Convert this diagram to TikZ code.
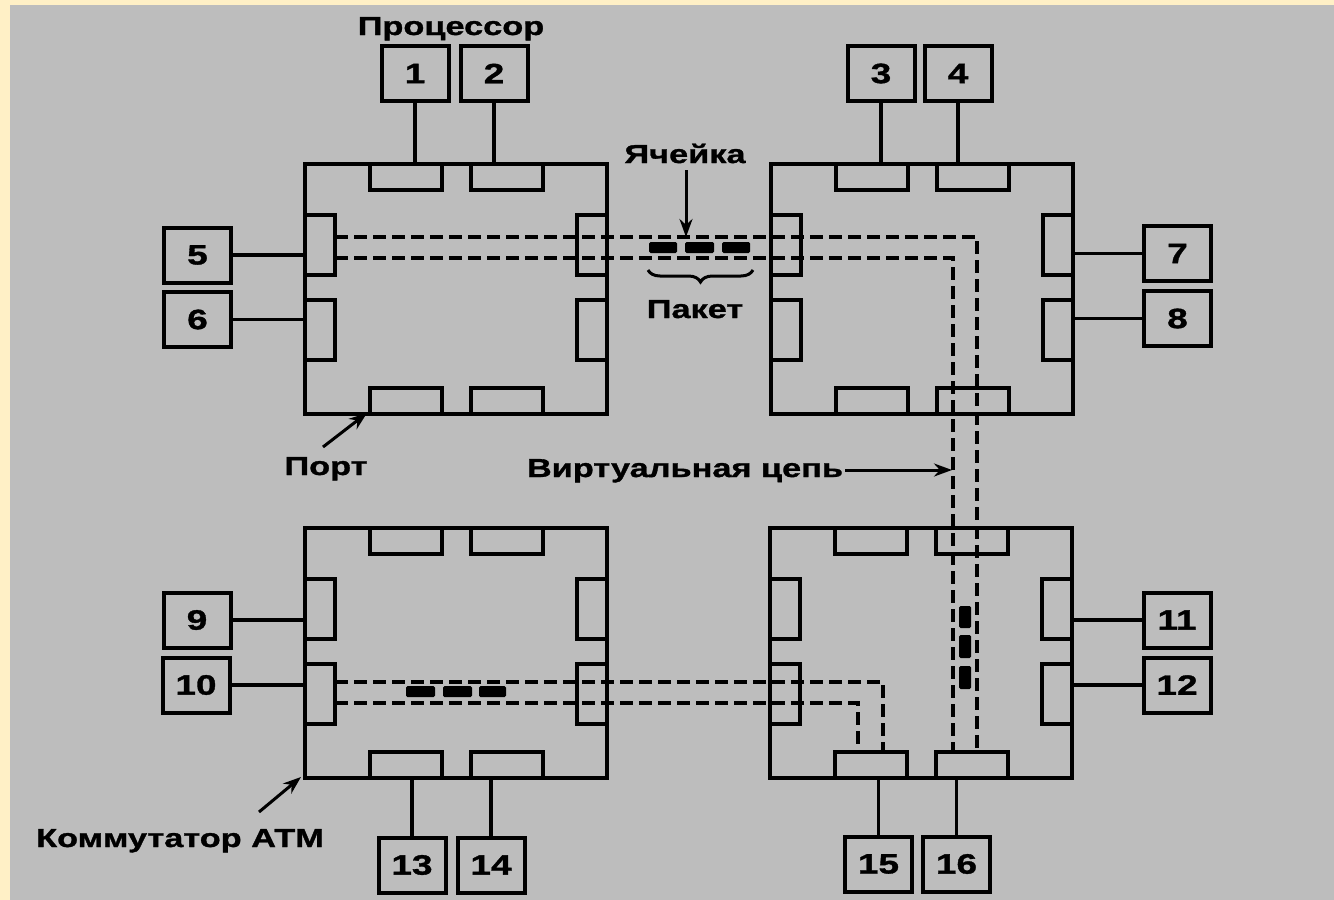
\documentclass[tikz,border=0pt]{standalone}
\usepackage{fontspec}
\setmainfont{Liberation Sans}[FakeStretch=1.32,FakeBold=1.2]
\usetikzlibrary{arrows.meta,decorations.pathreplacing}
\definecolor{bg}{RGB}{189,189,189}
\definecolor{cream}{RGB}{255,240,198}
\newcommand\atmsw[3]{%
  \node[sw] (#1) at (#2,#3) {};
  \node[hport] (#1-t1) at (#2+65,#3) {};
  \node[hport] (#1-t2) at (#2+166,#3) {};
  \node[hport] (#1-b1) at (#2+65,#3+224) {};
  \node[hport] (#1-b2) at (#2+166,#3+224) {};
  \node[vport] (#1-l1) at (#2,#3+51) {};
  \node[vport] (#1-l2) at (#2,#3+136) {};
  \node[vport] (#1-r1) at (#2+272,#3+51) {};
  \node[vport] (#1-r2) at (#2+272,#3+136) {};
}
\begin{document}
\begin{tikzpicture}[x=1pt,y=-1pt,
  box/.style={draw,line width=4pt,minimum width=67pt,minimum height=55pt,inner sep=0pt,font=\fontsize{28}{30}\selectfont\bfseries},
  sw/.style={draw,line width=3.6pt,minimum width=302pt,minimum height=250pt,inner sep=0pt,anchor=north west},
  port/.style={draw,line width=4pt,fill=bg,inner sep=0pt,anchor=north west},
  hport/.style={port,minimum width=72pt,minimum height=26pt},
  vport/.style={port,minimum width=30pt,minimum height=60pt},
  wire/.style={line width=3.6pt},
  vc/.style={line width=3.4pt,dash pattern=on 13pt off 6pt},
  cell/.style={fill=black,rounded corners=1.5pt},
  lbl/.style={font=\fontsize{26}{30}\selectfont\bfseries,inner sep=0pt},
  arr/.style={line width=3pt,-{Stealth[length=18pt,width=13pt]}},
]
\fill[cream] (0,0) rectangle (1334,900);
\fill[bg] (10,5) rectangle (1334,900);
\useasboundingbox (0,0) rectangle (1334,900);

% switches
\atmsw{A}{303}{162}
\atmsw{B}{769}{162}
\atmsw{C}{303}{526}
\atmsw{D}{768}{526}

% processor boxes
\node[box] (b1) at (415,73.5) {1};
\node[box] (b2) at (494,73.5) {2};
\node[box] (b3) at (881,73.5) {3};
\node[box] (b4) at (958,73.5) {4};
\node[box] (b5) at (197.5,255) {5};
\node[box] (b6) at (197.5,319.5) {6};
\node[box] (b7) at (1177.5,253.5) {7};
\node[box] (b8) at (1177.5,318.5) {8};
\node[box] (b9) at (197,620) {9};
\node[box] (b10) at (196,685) {10};
\node[box] (b11) at (1177,620) {11};
\node[box] (b12) at (1177,685) {12};
\node[box] (b13) at (412,865) {13};
\node[box] (b14) at (491,865) {14};
\node[box] (b15) at (878.5,864) {15};
\node[box] (b16) at (956.5,864) {16};

% wires
\draw[wire] (b1.south) -- (b1.south |- A-t1.north);
\draw[wire] (b2.south) -- (b2.south |- A-t2.north);
\draw[wire] (b3.south) -- (b3.south |- B-t1.north);
\draw[wire] (b4.south) -- (b4.south |- B-t2.north);
\draw[wire] (b5.east) -- (b5.east -| A-l1.west);
\draw[wire] (b6.east) -- (b6.east -| A-l2.west);
\draw[wire] (b7.west) -- (b7.west -| B-r1.east);
\draw[wire] (b8.west) -- (b8.west -| B-r2.east);
\draw[wire] (b9.east) -- (b9.east -| C-l1.west);
\draw[wire] (b10.east) -- (b10.east -| C-l2.west);
\draw[wire] (b11.west) -- (b11.west -| D-r1.east);
\draw[wire] (b12.west) -- (b12.west -| D-r2.east);
\draw[wire] (b13.north) -- (b13.north |- C-b1.south);
\draw[wire] (b14.north) -- (b14.north |- C-b2.south);
\draw[wire] (b15.north) -- (b15.north |- D-b1.south);
\draw[wire] (b16.north) -- (b16.north |- D-b2.south);

% virtual circuits
\coordinate (va0) at (335,237);
\coordinate (va1) at (977,237);
\coordinate (va2) at (977,752);
\coordinate (vb0) at (335,258);
\coordinate (vb1) at (953,258);
\coordinate (vb2) at (953,752);
\coordinate (vc0) at (335,682);
\coordinate (vc1) at (883,682);
\coordinate (vc2) at (883,752);
\coordinate (vd0) at (335,703);
\coordinate (vd1) at (858,703);
\coordinate (vd2) at (858,752);
\draw[vc] (va0) -- (va1) -- (va2);
\draw[vc] (vb0) -- (vb1) -- (vb2);
\draw[vc] (vc0) -- (vc1) -- (vc2);
\draw[vc] (vd0) -- (vd1) -- (vd2);

% cells
\fill[cell] (649,242) rectangle (677,253);
\fill[cell] (685,242) rectangle (714,253);
\fill[cell] (722,242) rectangle (750,253);
\fill[cell] (406,686) rectangle (435,697);
\fill[cell] (443,686) rectangle (472,697);
\fill[cell] (479,686) rectangle (506,697);
\fill[cell] (959,606) rectangle (971,628);
\fill[cell] (959,635) rectangle (971,658);
\fill[cell] (959,666) rectangle (971,689);

% labels
\node[lbl,anchor=base] (lproc) at (451,35) {Процессор};
\node[lbl,anchor=base] (lcell) at (685,163) {Ячейка};
\node[lbl,anchor=base] (lpack) at (695,318) {Пакет};
\node[lbl,anchor=base] (lport) at (326,475) {Порт};
\node[lbl,anchor=base] (lvc) at (685,477) {Виртуальная цепь};
\node[lbl,anchor=base] (lsw) at (180,847) {Коммутатор АТМ};

% arrows
\coordinate (ac0) at (686,170);
\coordinate (ac1) at (686,237);
\coordinate (ap0) at (323,447);
\coordinate (ap1) at (367,413);
\coordinate (av0) at (845,470);
\coordinate (av1) at (952,470);
\coordinate (as0) at (259,812);
\coordinate (as1) at (301,777);
\draw[arr] (ac0) -- (ac1);
\draw[arr] (ap0) -- (ap1);
\draw[arr] (av0) -- (av1);
\draw[arr] (as0) -- (as1);

% brace
\draw[line width=3pt,decorate,decoration={brace,mirror,amplitude=12pt}] (648,270) -- (753,270);
\end{tikzpicture}
\end{document}
